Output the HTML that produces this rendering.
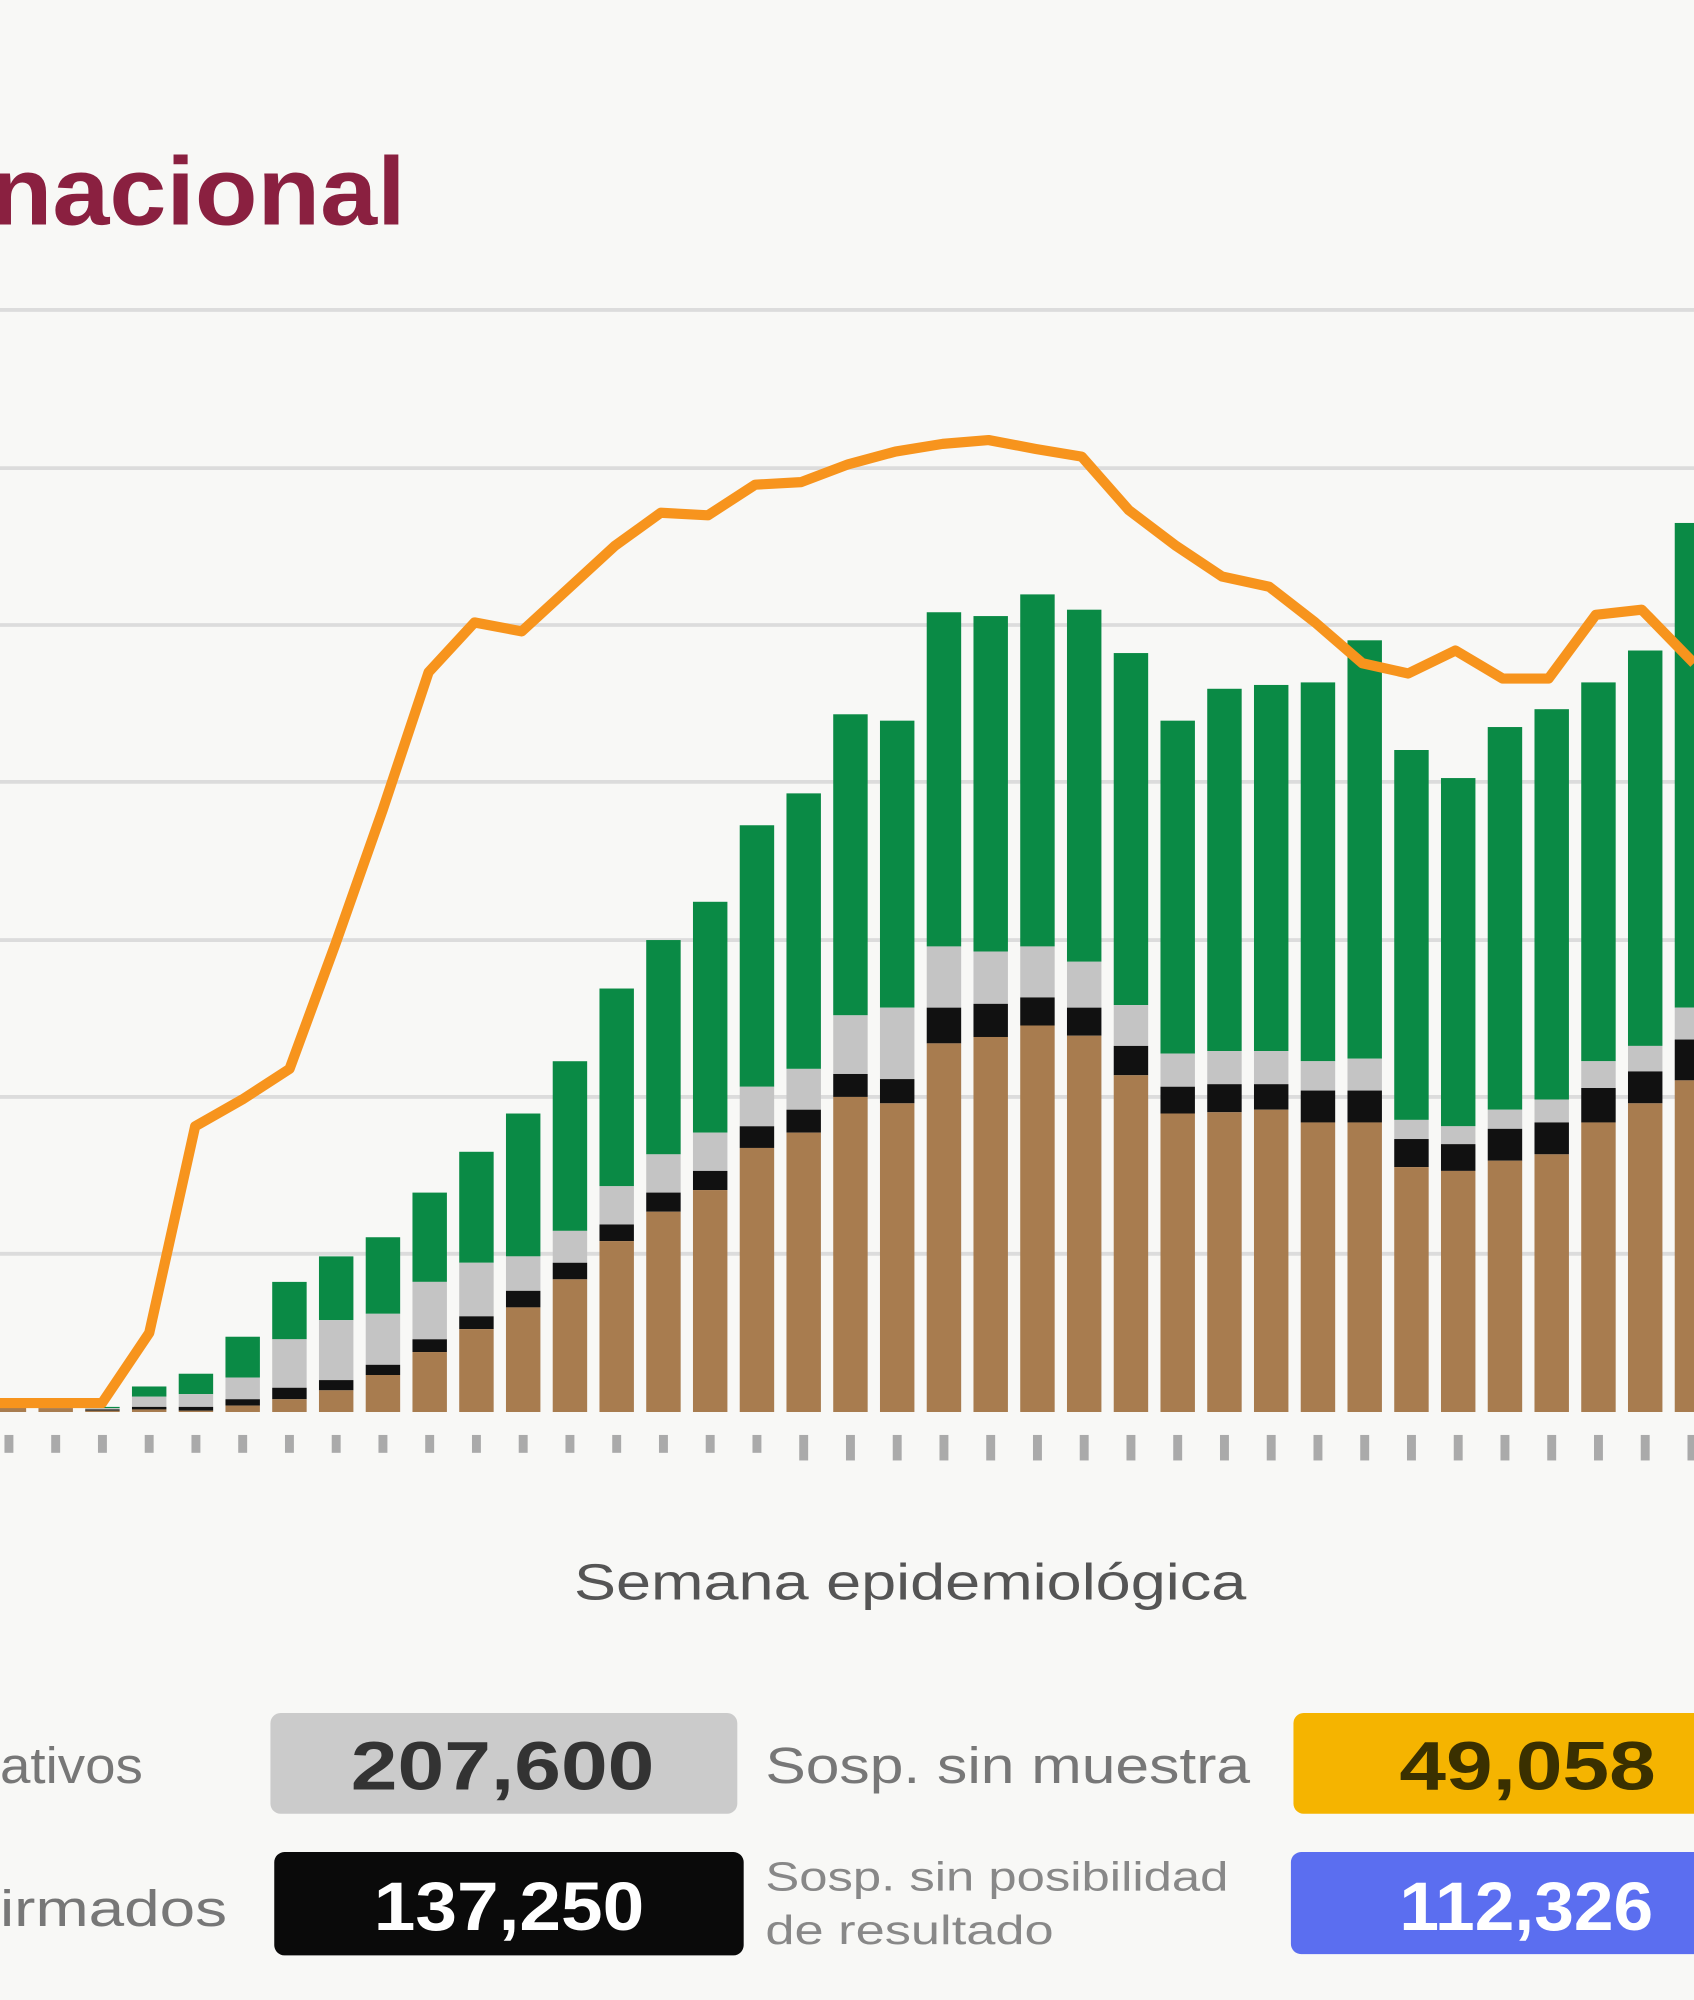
<!DOCTYPE html>
<html><head><meta charset="utf-8"><style>
html,body{margin:0;padding:0;background:#f8f8f6;}
svg{display:block}
text{font-family:"Liberation Sans",sans-serif}
</style></head><body>
<svg id="s" width="1694" height="2000" viewBox="0 0 1328 1568" preserveAspectRatio="none">
<rect width="1328" height="1568" fill="#f8f8f6"/>
<text x="-8" y="176" font-size="76" font-weight="bold" fill="#8a2040" textLength="326" lengthAdjust="spacingAndGlyphs">nacional</text>
<g stroke="#dcdcdc" stroke-width="3">
<line x1="0" x2="1328" y1="243" y2="243"/><line x1="0" x2="1328" y1="367" y2="367"/>
<line x1="0" x2="1328" y1="490" y2="490"/><line x1="0" x2="1328" y1="613" y2="613"/>
<line x1="0" x2="1328" y1="737" y2="737"/><line x1="0" x2="1328" y1="860" y2="860"/>
<line x1="0" x2="1328" y1="983" y2="983"/>
</g>
<g id="bars"></g>
<polyline fill="none" stroke="#f7941d" stroke-width="8" stroke-linejoin="round" points="0,1100 80,1100 117,1045 153,883 190,862 227,838 263,740 300,635 336,527 372,488 409,495 445,462 482,428 518,402 555,404 592,380 628,378 665,364 702,354 739,348 775,345 812,352 848,358 885,400 922,428 958,452 995,460 1031,488 1068,520 1104,528 1141,510 1178,532 1214,532 1251,482 1287,478 1328,520"/>
<g id="ticks" fill="#888"></g>
<text x="450" y="1254" font-size="40" fill="#555" textLength="527" lengthAdjust="spacingAndGlyphs">Semana epidemiológica</text>
<text x="0" y="1398" font-size="40" fill="#777" textLength="112" lengthAdjust="spacingAndGlyphs">ativos</text>
<rect x="212" y="1343" width="366" height="79" rx="8" fill="#cbcbcb"/>
<text x="275" y="1403" font-size="54" font-weight="bold" fill="#333" textLength="238" lengthAdjust="spacingAndGlyphs">207,600</text>
<text x="600" y="1398" font-size="40" fill="#777" textLength="380" lengthAdjust="spacingAndGlyphs">Sosp. sin muestra</text>
<rect x="1014" y="1343" width="330" height="79" rx="8" fill="#f5b400"/>
<text x="1097" y="1403" font-size="54" font-weight="bold" fill="#3a3000" textLength="201" lengthAdjust="spacingAndGlyphs">49,058</text>
<text x="0" y="1510" font-size="40" fill="#777" textLength="178" lengthAdjust="spacingAndGlyphs">irmados</text>
<rect x="215" y="1452" width="368" height="81" rx="8" fill="#0a0a0a"/>
<text x="293" y="1513" font-size="54" font-weight="bold" fill="#fff" textLength="212" lengthAdjust="spacingAndGlyphs">137,250</text>
<text x="600" y="1482" font-size="32" fill="#888" textLength="363" lengthAdjust="spacingAndGlyphs">Sosp. sin posibilidad</text>
<text x="600" y="1524" font-size="32" fill="#888" textLength="226" lengthAdjust="spacingAndGlyphs">de resultado</text>
<rect x="1012" y="1452" width="330" height="80" rx="8" fill="#5b6ef0"/>
<text x="1097" y="1513" font-size="54" font-weight="bold" fill="#fff" textLength="199" lengthAdjust="spacingAndGlyphs">112,326</text>
</svg>
<script>
var d=[[1100,1101,1102,1103],[1098,1100,1102,1104],[1103,1104,1105,1106],[1087,1095,1103,1105],[1077,1093,1103,1106],[1048,1080,1097,1102],[1005,1050,1088,1097],[985,1035,1082,1090],[970,1030,1070,1078],[935,1005,1050,1060],[903,990,1032,1042],[873,985,1012,1025],[832,965,990,1003],[775,930,960,973],[737,905,935,950],[707,888,918,933],[647,852,883,900],[622,838,870,888],[560,796,842,860],[565,790,846,865],[480,742,790,818],[483,746,787,813],[466,742,782,804],[478,754,790,812],[512,788,820,843],[565,826,852,873],[540,824,850,872],[537,824,850,870],[535,832,855,880],[502,830,855,880],[588,878,893,915],[610,883,897,918],[570,870,885,910],[556,862,880,905],[535,832,853,880],[510,820,840,865],[410,790,815,847]];
var g=document.getElementById('bars'),t=document.getElementById('ticks'),ns='http://www.w3.org/2000/svg';
function r(p,x,y,w,h,c){var e=document.createElementNS(ns,'rect');e.setAttribute('x',x);e.setAttribute('y',y);e.setAttribute('width',w);e.setAttribute('height',Math.max(0,h));e.setAttribute('fill',c);p.appendChild(e);}
d.forEach(function(b,i){var x=7+36.65*i-13.5,w=27,B=1107;
r(g,x,b[0],w,b[1]-b[0],'#0a8a45');r(g,x,b[1],w,b[2]-b[1],'#c4c4c4');r(g,x,b[2],w,b[3]-b[2],'#111');r(g,x,b[3],w,B-b[3],'#a87c4f');
r(t,x+10,1125,7,i>16?20:14,'#aaa');});
</script>
</body></html>
